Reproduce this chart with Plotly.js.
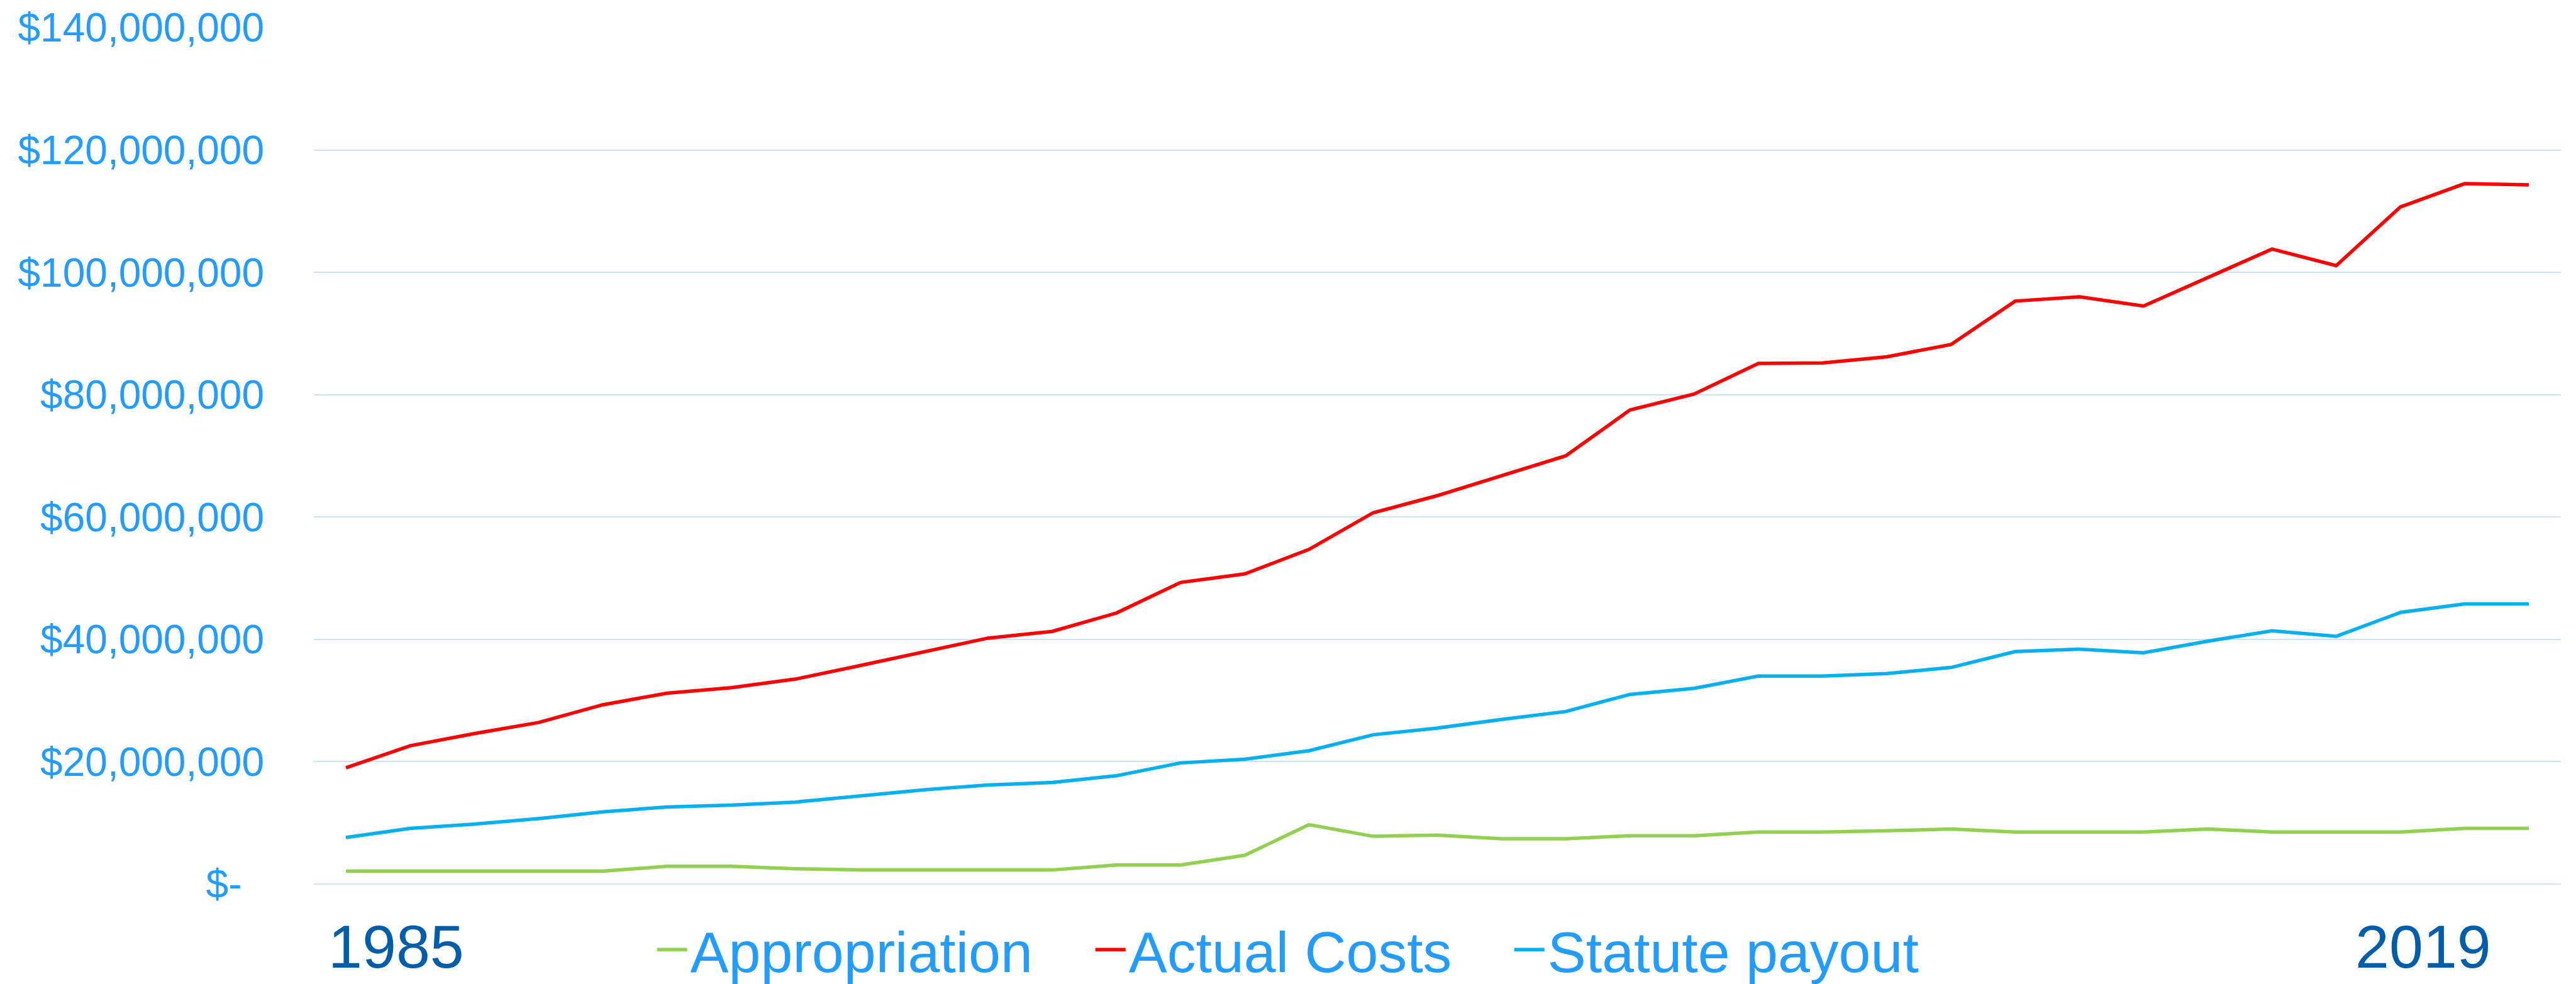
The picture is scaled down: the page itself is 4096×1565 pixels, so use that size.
<!DOCTYPE html>
<html>
<head>
<meta charset="utf-8">
<script src="https://cdn.plot.ly/plotly-3.0.1.min.js"></script>
<style>
  html, body { margin: 0; padding: 0; background: #ffffff; overflow: hidden; }
  #chart { width: 4096px; height: 1565px; }
</style>
</head>
<body>
<div id="chart"></div>
<script>
// ---- Data ----
const years = [1985, 1986, 1987, 1988, 1989, 1990, 1991, 1992, 1993, 1994,
               1995, 1996, 1997, 1998, 1999, 2000, 2001, 2002, 2003, 2004,
               2005, 2006, 2007, 2008, 2009, 2010, 2011, 2012, 2013, 2014,
               2015, 2016, 2017, 2018, 2019];

const appropriation = [2100000, 2100000, 2100000, 2100000, 2100000, 2900000, 2900000, 2500000, 2300000, 2300000,
                       2300000, 2300000, 3100000, 3100000, 4700000, 9700000, 7800000, 8000000, 7400000, 7400000,
                       7900000, 7900000, 8500000, 8500000, 8700000, 9000000, 8500000, 8500000, 8500000, 9000000,
                       8500000, 8500000, 8500000, 9100000, 9100000];

const actualCosts = [19000000, 22600000, 24600000, 26400000, 29300000, 31200000, 32100000, 33500000, 35700000, 38000000,
                     40200000, 41300000, 44300000, 49300000, 50700000, 54700000, 60700000, 63500000, 66700000, 70000000,
                     77500000, 80100000, 85100000, 85200000, 86200000, 88200000, 95300000, 96000000, 94500000, 99100000,
                     103800000, 101100000, 110700000, 114500000, 114300000];

const statutePayout = [7600000, 9100000, 9800000, 10700000, 11800000, 12600000, 12900000, 13400000, 14400000, 15400000,
                       16200000, 16600000, 17700000, 19800000, 20400000, 21800000, 24400000, 25500000, 26900000, 28200000,
                       31000000, 32000000, 34000000, 34000000, 34400000, 35400000, 38000000, 38400000, 37800000, 39700000,
                       41400000, 40500000, 44400000, 45800000, 45800000];

const seriesNames = ["Appropriation", "Actual Costs", "Statute payout"];

const yTickValues = [0, 20000000, 40000000, 60000000, 80000000, 100000000, 120000000, 140000000];
const yTickLabels = ["$-\u00A0\u00A0", "$20,000,000", "$40,000,000", "$60,000,000", "$80,000,000",
                     "$100,000,000", "$120,000,000", "$140,000,000"];

const xEndLabels = ["1985", "2019"];

// ---- Styles ----
const FONT = "Liberation Sans, Arial, sans-serif";
const LABEL_BLUE = "#239CFF";
const YEAR_BLUE = "#005DAA";
const GRID = "#CAE3FA";
const LINE_W = 5.5;

const traces = [
  { x: years, y: appropriation, name: seriesNames[0], type: "scatter", mode: "lines",
    legend: "legend", line: { color: "#92D050", width: LINE_W } },
  { x: years, y: actualCosts, name: seriesNames[1], type: "scatter", mode: "lines",
    legend: "legend2", line: { color: "#FF0000", width: LINE_W } },
  { x: years, y: statutePayout, name: seriesNames[2], type: "scatter", mode: "lines",
    legend: "legend3", line: { color: "#00B0F0", width: LINE_W } }
];

function legendAt(xPos) {
  return {
    orientation: "h",
    x: xPos, xanchor: "left",
    y: -0.0765, yanchor: "middle",
    font: { family: FONT, size: 91.5, color: LABEL_BLUE },
    bgcolor: "rgba(0,0,0,0)",
    borderwidth: 0,
    itemwidth: 48
  };
}

const layout = {
  width: 4096,
  height: 1565,
  autosize: false,
  paper_bgcolor: "#ffffff",
  plot_bgcolor: "#ffffff",
  margin: { l: 499, r: 24, t: 44, b: 159, pad: 0, autoexpand: false },
  font: { family: FONT, color: LABEL_BLUE },
  showlegend: true,
  legend: legendAt(0.1513),
  legend2: legendAt(0.3464),
  legend3: legendAt(0.5328),
  xaxis: {
    type: "linear",
    range: [1984.5, 2019.5],
    showgrid: false,
    zeroline: false,
    showline: false,
    showticklabels: false,
    ticks: "",
    fixedrange: true
  },
  yaxis: {
    range: [0, 140000000],
    tickmode: "array",
    tickvals: yTickValues,
    ticktext: yTickLabels,
    showgrid: true,
    gridcolor: GRID,
    gridwidth: 2,
    zeroline: true,
    zerolinecolor: GRID,
    zerolinewidth: 2,
    showline: false,
    ticks: "",
    ticklabelstandoff: 78,
    tickfont: { family: FONT, size: 64, color: LABEL_BLUE },
    fixedrange: true
  },
  annotations: [
    { text: xEndLabels[0], xref: "paper", yref: "paper", x: 0.0367, y: -0.0730,
      xanchor: "center", yanchor: "middle", showarrow: false,
      font: { family: FONT, size: 97, color: YEAR_BLUE } },
    { text: xEndLabels[1], xref: "paper", yref: "paper", x: 0.9387, y: -0.0730,
      xanchor: "center", yanchor: "middle", showarrow: false,
      font: { family: FONT, size: 97, color: YEAR_BLUE } }
  ]
};

Plotly.newPlot("chart", traces, layout, { displayModeBar: false, staticPlot: true });
</script>
</body>
</html>
